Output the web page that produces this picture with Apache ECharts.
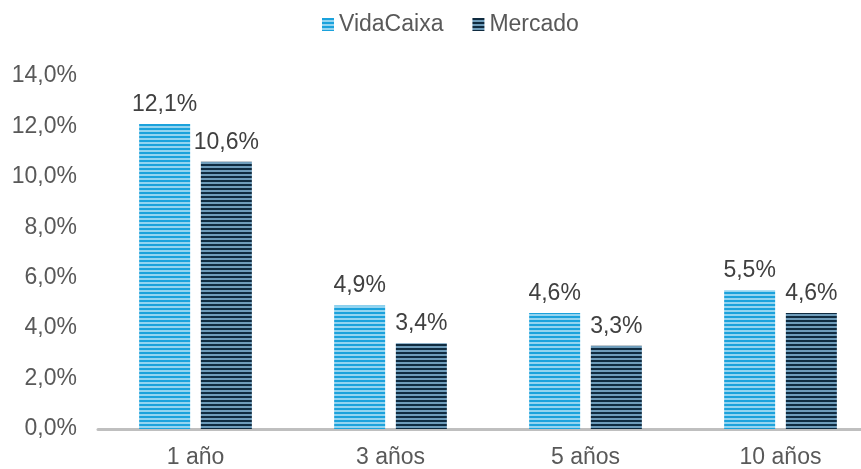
<!DOCTYPE html>
<html>
<head>
<meta charset="utf-8">
<script src="https://cdn.jsdelivr.net/npm/echarts@6/dist/echarts.min.js"></script>
<style>html,body{margin:0;padding:0;background:#fff;overflow:hidden;}#c{width:878px;height:469px;}</style>
</head>
<body>
<div id="c"></div>
<script>
var categories = ['1 año', '3 años', '5 años', '10 años'];
var vidaCaixa = [12.1, 4.9, 4.6, 5.5];
var mercado = [10.6, 3.4, 3.3, 4.6];
var yTicks = [0, 2, 4, 6, 8, 10, 12, 14];

function stripe(c1, c2) {
  var cv = document.createElement('canvas');
  cv.width = 4; cv.height = 4;
  var ctx = cv.getContext('2d');
  ctx.fillStyle = c1; ctx.fillRect(0, 0, 4, 2);
  ctx.fillStyle = c2; ctx.fillRect(0, 2, 4, 2);
  return { image: cv, repeat: 'repeat' };
}
function fmt(v) { return v.toFixed(1).replace('.', ',') + '%'; }

var chart = echarts.init(document.getElementById('c'));
var font = 'Liberation Sans, Arial, sans-serif';
chart.setOption({
  animation: false,
  textStyle: { fontFamily: font },
  legend: {
    top: 8, left: 317, itemWidth: 12, itemHeight: 13, itemGap: 29,
    textStyle: { color: '#595959', fontSize: 23, fontFamily: font },
    icon: 'rect',
    data: ['VidaCaixa', 'Mercado']
  },
  grid: { left: 98, right: 0, top: 76, bottom: 35 },
  xAxis: {
    type: 'category', data: categories,
    axisLine: { lineStyle: { color: '#bfbfbf', width: 3 } },
    axisTick: { show: false },
    axisLabel: { color: '#595959', fontSize: 23, margin: 17, fontFamily: font }
  },
  yAxis: {
    type: 'value', min: 0, max: 14, interval: 2,
    splitLine: { show: false },
    axisLine: { show: false },
    axisTick: { show: false },
    axisLabel: { color: '#595959', fontSize: 23, margin: 21, fontFamily: font, padding: [2, 0, 0, 0],
      formatter: function (v) { return yTicks.indexOf(v) >= 0 ? fmt(v) : ''; } }
  },
  series: [
    {
      name: 'VidaCaixa', type: 'bar', data: vidaCaixa,
      barWidth: 51, barGap: '21%',
      itemStyle: { color: stripe('#1ba2dc', '#93d4f0') },
      label: { show: true, position: 'top', distance: 8, color: '#404040', fontSize: 23, fontFamily: font, formatter: function (p) { return fmt(p.value); } }
    },
    {
      name: 'Mercado', type: 'bar', data: mercado,
      barWidth: 51,
      itemStyle: { color: stripe('#0f2b40', '#6f9dbb') },
      label: { show: true, position: 'top', distance: 8, color: '#404040', fontSize: 23, fontFamily: font, formatter: function (p) { return fmt(p.value); } }
    }
  ]
});
</script>
</body>
</html>
